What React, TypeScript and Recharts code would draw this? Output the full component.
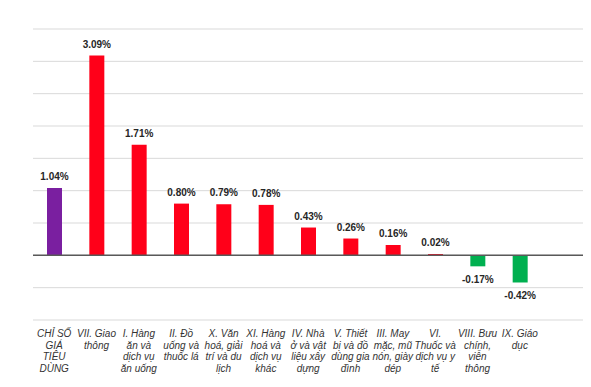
import { BarChart, Bar, XAxis, YAxis, CartesianGrid, ReferenceLine, Cell, LabelList } from "recharts";

const categories = [
  "CHỈ SỐ\nGIÁ\nTIÊU\nDÙNG",
  "VII. Giao\nthông",
  "I. Hàng\năn và\ndịch vụ\năn uống",
  "II. Đồ\nuống và\nthuốc lá",
  "X. Văn\nhoá, giải\ntrí và du\nlịch",
  "XI. Hàng\nhoá và\ndịch vụ\nkhác",
  "IV. Nhà\nở và vật\nliệu xây\ndựng",
  "V. Thiết\nbị và đồ\ndùng gia\nđình",
  "III. May\nmặc, mũ\nnón, giày\ndép",
  "VI.\nThuốc và\ndịch vụ y\ntế",
  "VIII. Bưu\nchính,\nviễn\nthông",
  "IX. Giáo\ndục",
];

const changes = [1.04, 3.09, 1.71, 0.8, 0.79, 0.78, 0.43, 0.26, 0.16, 0.02, -0.17, -0.42];

const yTicks = [-1, -0.5, 0, 0.5, 1, 1.5, 2, 2.5, 3, 3.5];

const data = categories.map((name, i) => ({ name, value: changes[i] }));

function barColor(i: number, v: number) {
  if (i === 0) return "#7a1fa0";
  return v < 0 ? "#00b050" : "#ff0019";
}

function CategoryTick({ x, y, payload }: any) {
  const lines = String(payload.value).split("\n");
  return (
    <text
      x={x}
      y={y}
      textAnchor="middle"
      fontSize={10}
      fontStyle="italic"
      fill="#333"
      fontFamily="'Liberation Sans', Arial, sans-serif"
    >
      {lines.map((line, i) => (
        <tspan key={i} x={x} dy={i === 0 ? 17 : 11.5}>
          {line}
        </tspan>
      ))}
    </text>
  );
}

function ValueLabel({ x, y, width, height, value }: any) {
  const top = Math.min(y, y + height);
  const bottom = Math.max(y, y + height);
  const cx = x + width / 2;
  const ty = value < 0 ? bottom + 17 : top - 8;
  return (
    <text
      x={cx}
      y={ty}
      textAnchor="middle"
      fontSize={10}
      fontWeight="bold"
      fill="#262626"
      fontFamily="'Liberation Sans', Arial, sans-serif"
    >
      {`${Number(value).toFixed(2)}%`}
    </text>
  );
}

export default function App() {
  return (
    <div style={{ position: "absolute", left: 0, top: 0, width: 591, height: 387, background: "#fff" }}>
      <BarChart
        width={591}
        height={387}
        data={data}
        margin={{ top: 29, right: 8, left: 33, bottom: 7 }}
      >
        <CartesianGrid horizontal vertical={false} stroke="#d9d9d9" strokeWidth={1} />
        <XAxis
          dataKey="name"
          interval={0}
          height={60}
          tickLine={false}
          axisLine={false}
          tickSize={0}
          tickMargin={0}
          padding={{ left: 0, right: 42 }}
          tick={<CategoryTick />}
        />
        <YAxis hide domain={[-1, 3.5]} ticks={yTicks} />
        <ReferenceLine y={0} stroke="#595959" strokeWidth={1.5} />
        <Bar dataKey="value" barSize={15} isAnimationActive={false}>
          {data.map((d, i) => (
            <Cell key={i} fill={barColor(i, d.value)} />
          ))}
          <LabelList dataKey="value" content={<ValueLabel />} />
        </Bar>
      </BarChart>
    </div>
  );
}
